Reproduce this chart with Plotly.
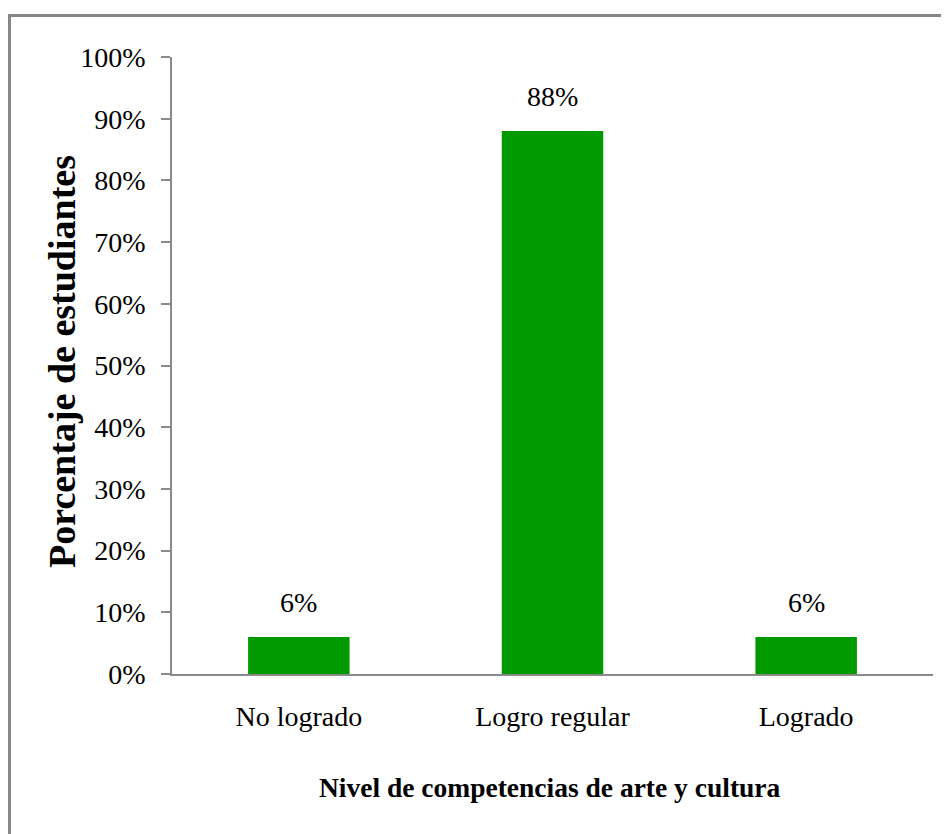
import plotly.graph_objects as go

categories = ["No logrado", "Logro regular", "Logrado"]
values = [0.06, 0.88, 0.06]
value_labels = ["6%", "88%", "6%"]
y_title = "Porcentaje de estudiantes"
x_title = "Nivel de competencias de arte y cultura"

FONT = "Times New Roman, Liberation Serif, serif"
AXIS_COLOR = "#8a8a8a"
BAR_COLOR = "#009900"

OFF = 8  # page body margin
W, H = 949, 834
L, T = 172 - OFF, 57 - OFF
pw, ph = 933 - 172, 674 - 57
R, B = W - L - pw, H - T - ph

def px_x(x):
    return (x - OFF - L) / pw

def px_y(y):
    return (T + ph - (y - OFF)) / ph

fig = go.Figure(
    go.Bar(x=categories, y=values, marker=dict(color=BAR_COLOR, line=dict(width=0)))
)

annotations = []
for c, v, t in zip(categories, values, value_labels):
    annotations.append(dict(x=c, y=v, xref="x", yref="y", text=t, showarrow=False,
                            yanchor="bottom", yshift=17,
                            font=dict(family=FONT, size=28, color="#000")))
annotations.append(dict(x=px_x(62), y=px_y(362), xref="paper", yref="paper",
                        text="<b>" + y_title + "</b>", textangle=-90, showarrow=False,
                        xanchor="center", yanchor="middle",
                        font=dict(family=FONT, size=38, color="#000")))
annotations.append(dict(x=px_x(550), y=px_y(787), xref="paper", yref="paper",
                        text="<b>" + x_title + "</b>", showarrow=False,
                        xanchor="center", yanchor="middle",
                        font=dict(family=FONT, size=27.5, color="#000")))

fig.update_layout(
    width=W, height=H,
    margin=dict(l=L, r=R, t=T, b=B, autoexpand=False),
    paper_bgcolor="white", plot_bgcolor="white",
    bargap=0.6,
    showlegend=False,
    annotations=annotations,
    shapes=[dict(type="rect", xref="paper", yref="paper",
                 x0=px_x(9.5), x1=px_x(980), y0=px_y(870), y1=px_y(15.5),
                 line=dict(color="#878787", width=3), fillcolor="rgba(0,0,0,0)",
                 layer="above")],
    font=dict(family=FONT, color="#000"),
)
fig.update_xaxes(showline=True, linecolor=AXIS_COLOR, linewidth=1.5, ticks="",
                 showgrid=False, zeroline=False,
                 tickfont=dict(family=FONT, size=28, color="#000"),
                 ticklabelstandoff=17)
fig.update_yaxes(range=[0, 1], dtick=0.1, tickformat=".0%", showline=True,
                 linecolor=AXIS_COLOR, linewidth=1.5, ticks="outside", ticklen=9,
                 tickcolor=AXIS_COLOR, tickwidth=1.5, showgrid=False, zeroline=False,
                 tickfont=dict(family=FONT, size=28, color="#000"),
                 ticklabelstandoff=10)

fig.write_html("out.html")
